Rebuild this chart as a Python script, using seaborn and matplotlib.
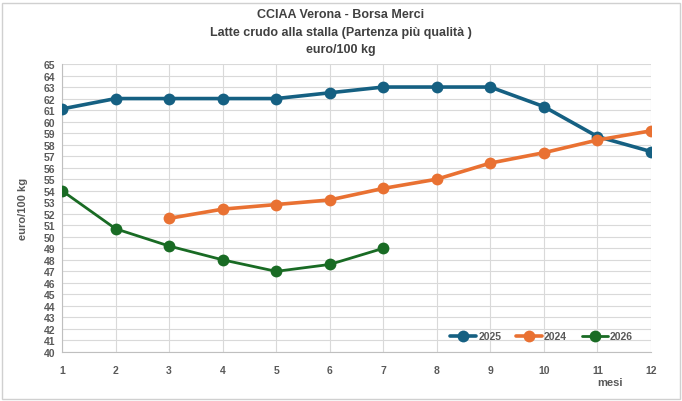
import numpy as np
import pandas as pd
import matplotlib
matplotlib.use("Agg")
import matplotlib.pyplot as plt
import seaborn as sns

# dati
mesi = list(range(1, 13))
anni = ["2025", "2024", "2026"]
prezzi_2025 = [61.1, 62.0, 62.0, 62.0, 62.0, 62.5, 63.0, 63.0, 63.0, 61.3, 58.7, 57.4]
mesi_2024 = [3, 4, 5, 6, 7, 8, 9, 10, 11, 12]
prezzi_2024 = [51.6, 52.4, 52.8, 53.2, 54.2, 55.0, 56.4, 57.3, 58.4, 59.2]
mesi_2026 = [1, 2, 3, 4, 5, 6, 7]
prezzi_2026 = [54.0, 50.7, 49.2, 48.0, 47.0, 47.6, 49.0]
y_ticks = list(range(40, 66))

colori = {"2025": "#156082", "2024": "#E97132", "2026": "#196B24"}
spessori = {"2025": 2.6, "2024": 2.6, "2026": 2.0}

df = pd.concat([
    pd.DataFrame({"mese": mesi, "prezzo": prezzi_2025, "anno": "2025"}),
    pd.DataFrame({"mese": mesi_2024, "prezzo": prezzi_2024, "anno": "2024"}),
    pd.DataFrame({"mese": mesi_2026, "prezzo": prezzi_2026, "anno": "2026"}),
])

sns.set_style("white")
plt.rcParams["font.family"] = ["Liberation Sans", "DejaVu Sans"]

fig = plt.figure(figsize=(6.82, 4.02), dpi=100)
ax = fig.add_axes([62 / 682, 1 - 353 / 402, (651 - 62) / 682, (353 - 65) / 402])

grigio = "#595959"
for anno in anni:
    d = df[df["anno"] == anno]
    sns.lineplot(data=d, x="mese", y="prezzo", ax=ax, color=colori[anno],
                 linewidth=spessori[anno], marker="o", markersize=8.5,
                 markeredgewidth=0, label=anno, zorder=3)

ax.set_xlim(1, 12)
ax.set_ylim(40, 65)
ax.set_xticks(mesi)
ax.set_yticks(y_ticks)
ax.grid(True, color="#D9D9D9", linewidth=0.8)
for s in ["top", "right"]:
    ax.spines[s].set_visible(False)
for s in ["left", "bottom"]:
    ax.spines[s].set_color("#BFBFBF")
    ax.spines[s].set_linewidth(0.8)
ax.tick_params(axis="x", length=0, labelsize=7.5, labelcolor=grigio, pad=9)
ax.tick_params(axis="y", length=0, labelsize=7.5, labelcolor=grigio, pad=5)
for lab in ax.get_xticklabels() + ax.get_yticklabels():
    lab.set_fontweight("bold")
ax.set_xlabel("")
ax.set_ylabel("euro/100 kg", fontsize=8, fontweight="bold", color=grigio, labelpad=11)

fig.text(0.895, 1 - 383 / 402, "mesi", fontsize=8, fontweight="bold",
         color=grigio, ha="center", va="center")
fig.text(0.5, 1 - 15 / 402, "CCIAA Verona - Borsa Merci", fontsize=9,
         fontweight="bold", color="#404040", ha="center", va="center")
fig.text(0.5, 1 - 33 / 402, "Latte crudo alla stalla (Partenza più qualità )",
         fontsize=9, fontweight="bold", color="#404040", ha="center", va="center")
fig.text(0.5, 1 - 50 / 402, "euro/100 kg", fontsize=9, fontweight="bold",
         color="#404040", ha="center", va="center")

leg = ax.legend(loc="lower right", bbox_to_anchor=(0.985, 0.005), ncol=3, frameon=False,
                fontsize=7.5, handlelength=2.5, columnspacing=1.4, handletextpad=0.2)
for t in leg.get_texts():
    t.set_fontweight("bold")
    t.set_color(grigio)

fig.patches.append(plt.Rectangle((0.003, 0.005), 0.994, 0.985, transform=fig.transFigure,
                                 fill=False, edgecolor="#D0D0D0", linewidth=1))

fig.savefig("out.png", dpi=100)
